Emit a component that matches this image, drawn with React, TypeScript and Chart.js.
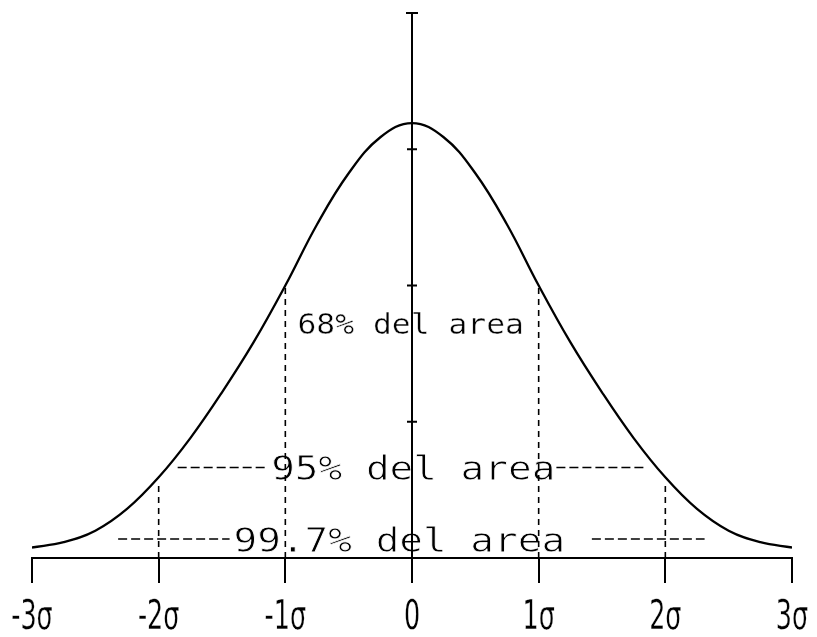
import React, { useEffect, useRef } from "react";
import { Chart, registerables } from "chart.js";

Chart.register(...registerables);

// Bell curve samples: x in standard deviations, y = density
const curveX = [-3, -2.75, -2.5, -2.25, -2, -1.75, -1.5, -1.25, -1, -0.75, -0.5, -0.25, 0, 0.25, 0.5, 0.75, 1, 1.25, 1.5, 1.75, 2, 2.25, 2.5, 2.75, 3];
const curveY = [0.0096, 0.0145, 0.025, 0.045, 0.074, 0.11, 0.152, 0.198, 0.25, 0.306, 0.353, 0.386, 0.399, 0.386, 0.353, 0.306, 0.25, 0.198, 0.152, 0.11, 0.074, 0.045, 0.025, 0.0145, 0.0096];

// Dashed verticals at ±1σ and ±2σ, up to the curve
const sigmaMarks = [-2, -1, 1, 2];
const sigmaTops = [0.07, 0.25, 0.25, 0.07];

// Horizontal axis ticks
const xTicks = [-3, -2, -1, 0, 1, 2, 3];
const xTickLabels = ["-3σ", "-2σ", "-1σ", "0", "1σ", "2σ", "3σ"];

// Vertical axis tick marks (crosses)
const yTicks = [0.125, 0.25, 0.375, 0.5];

// Area bands: label, height of the label's centre line, dashed leaders either side of the text
const bandLabels = ["68% del area", "95% del area", "99.7% del area"];
const bandLevels = [0.215, 0.083, 0.0175];
const bandLabelX = [-0.01, 0.01, -0.1];
const band95Left = [-1.85, -1.14];
const band95Right = [1.14, 1.85];
const band997Left = [-2.32, -1.44];
const band997Right = [1.42, 2.31];

const INK = "#000";

function segment(x0: number, y0: number, x1: number, y1: number, dash: number[], width: number) {
  return {
    data: [
      { x: x0, y: y0 },
      { x: x1, y: y1 },
    ],
    borderColor: INK,
    borderWidth: width,
    borderDash: dash,
    pointRadius: 0,
    tension: 0,
    fill: false,
  };
}

// Pen-style text: cap height centred on (cx, cy), strokes thinned by a white outline
function drawText(
  ctx: CanvasRenderingContext2D,
  text: string,
  cx: number,
  cy: number,
  family: string,
  size: number,
  sx: number,
  thin: number
) {
  ctx.save();
  ctx.font = `${size}px ${family}`;
  ctx.textAlign = "center";
  ctx.textBaseline = "alphabetic";
  ctx.translate(cx, cy + size * 0.729 * 0.5);
  ctx.scale(sx, 1);
  ctx.fillStyle = INK;
  ctx.fillText(text, 0, 0);
  if (thin > 0) {
    ctx.strokeStyle = "#fff";
    ctx.lineWidth = thin;
    ctx.lineJoin = "round";
    ctx.strokeText(text, 0, 0);
  }
  ctx.restore();
}

const axisAndLabels = {
  id: "axisAndLabels",
  beforeDatasetsDraw(chart: any) {
    const { ctx, scales } = chart;
    const xs = scales.x;
    const ys = scales.y;

    // band labels
    const sizes = [27.5, 34.5, 34.5];
    const thinning = [0.4, 0.8, 0.8];
    bandLabels.forEach((t, i) => {
      drawText(
        ctx,
        t,
        xs.getPixelForValue(bandLabelX[i]),
        ys.getPixelForValue(bandLevels[i]),
        '"DejaVu Sans Mono"',
        sizes[i],
        1.14,
        thinning[i]
      );
    });

    // horizontal tick labels
    xTicks.forEach((v, i) => {
      drawText(ctx, xTickLabels[i], xs.getPixelForValue(v), xs.bottom + 31, '"DejaVu Sans"', 41, 0.62, 0.3);
    });
  },
  afterDatasetsDraw(chart: any) {
    const { ctx, scales } = chart;
    const xs = scales.x;
    const ys = scales.y;
    const x0 = xs.getPixelForValue(0);

    // central vertical axis with cross ticks
    ctx.save();
    ctx.strokeStyle = INK;
    ctx.lineWidth = 2;
    ctx.beginPath();
    ctx.moveTo(x0, ys.getPixelForValue(0));
    ctx.lineTo(x0, ys.getPixelForValue(0.5));
    yTicks.forEach((v) => {
      const py = ys.getPixelForValue(v);
      const half = v === 0.5 ? 6 : 5;
      ctx.moveTo(x0 - half, py);
      ctx.lineTo(x0 + half, py);
    });
    ctx.stroke();
    ctx.restore();
  },
};

export default function App() {
  const ref = useRef<HTMLCanvasElement | null>(null);

  useEffect(() => {
    if (!ref.current) return;

    const datasets: any[] = [
      {
        data: curveX.map((x, i) => ({ x, y: curveY[i] })),
        borderColor: INK,
        borderWidth: 2.3,
        pointRadius: 0,
        tension: 0.4,
        fill: false,
      },
    ];
    sigmaMarks.forEach((x, i) => datasets.push(segment(x, 0, x, sigmaTops[i], [6, 5], 1.6)));
    datasets.push(segment(band95Left[0], bandLevels[1], band95Left[1], bandLevels[1], [9, 4], 1.6));
    datasets.push(segment(band95Right[0], bandLevels[1], band95Right[1], bandLevels[1], [9, 4], 1.6));
    datasets.push(segment(band997Left[0], bandLevels[2], band997Left[1], bandLevels[2], [9, 4], 1.6));
    datasets.push(segment(band997Right[0], bandLevels[2], band997Right[1], bandLevels[2], [9, 4], 1.6));

    const chart = new Chart(ref.current, {
      type: "line",
      data: { datasets },
      options: {
        animation: false,
        responsive: false,
        events: [],
        layout: { padding: { left: 32, right: 25, top: 13, bottom: 54 } },
        plugins: { legend: { display: false }, tooltip: { enabled: false } },
        scales: {
          x: {
            type: "linear",
            min: -3,
            max: 3,
            afterBuildTicks: (s: any) => {
              s.ticks = xTicks.map((value) => ({ value }));
            },
            ticks: { display: false },
            grid: {
              display: true,
              drawOnChartArea: false,
              drawTicks: true,
              tickLength: 25,
              color: INK,
              lineWidth: 2,
            },
            border: { display: true, color: INK, width: 2 },
          },
          y: {
            type: "linear",
            min: 0,
            max: 0.5,
            display: false,
          },
        },
      },
      plugins: [axisAndLabels],
    });

    return () => chart.destroy();
  }, []);

  return (
    <div style={{ position: "fixed", left: 0, top: 0, width: 817, height: 637, background: "#fff" }}>
      <canvas ref={ref} width={817} height={637} style={{ width: 817, height: 637, display: "block" }} />
    </div>
  );
}
